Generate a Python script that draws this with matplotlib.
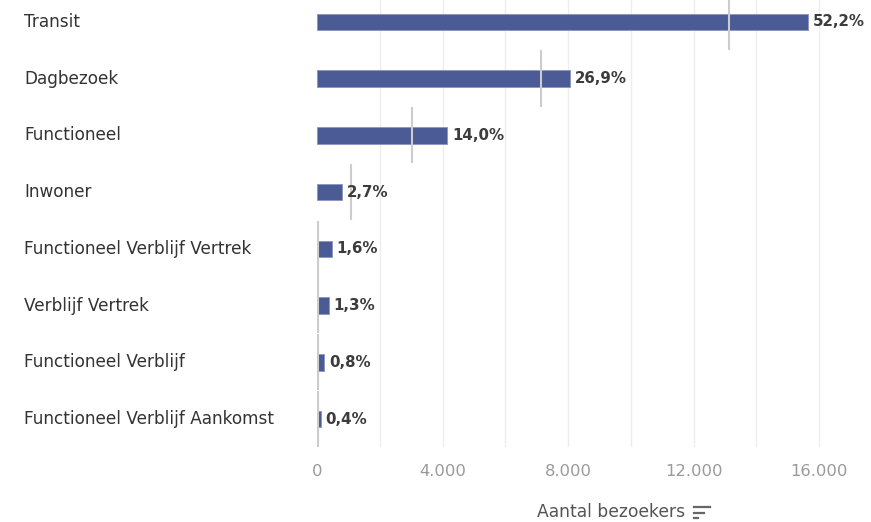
import matplotlib
matplotlib.use("Agg")
import matplotlib.pyplot as plt
from matplotlib.lines import Line2D

categories = ["Transit", "Dagbezoek", "Functioneel", "Inwoner",
              "Functioneel Verblijf Vertrek", "Verblijf Vertrek",
              "Functioneel Verblijf", "Functioneel Verblijf Aankomst"]
visitors = [15650, 8060, 4150, 800, 470, 380, 225, 115]
pct_labels = ["52,2%", "26,9%", "14,0%", "2,7%", "1,6%", "1,3%", "0,8%", "0,4%"]
reference = [13130, 7150, 3030, 1085, 20, 20, 20, 20]
xticks = [0, 4000, 8000, 12000, 16000]
xtick_labels = ["0", "4.000", "8.000", "12.000", "16.000"]
grid_vals = list(range(0, 18001, 2000))

FONT = ["DejaVu Sans"]
plt.rcParams["font.family"] = FONT

W, H = 871, 522
fig = plt.figure(figsize=(W / 100, H / 100), dpi=100)
x0_px, x16_px = 317, 819
xmax = (W - x0_px) / (x16_px - x0_px) * 16000
top_px, bot_px = 0, 447
ax = fig.add_axes([x0_px / W, 1 - bot_px / H, 1 - x0_px / W, (bot_px - top_px) / H])

step = (419 - 22) / 7.0
ax.set_xlim(0, xmax)
ax.set_ylim(7 + (bot_px - 419) / step, -(22 - top_px) / step)

for g in grid_vals[1:]:
    ax.axvline(g, color="#ededed", lw=1.0, zorder=0)

ypos = list(range(len(categories)))
ax.barh(ypos, visitors, height=0.29, color="#4b5b95", edgecolor="#8a95bd",
        linewidth=0.6, zorder=2)

for i, r in enumerate(reference):
    ax.plot([r, r], [i - 0.5, i + 0.49], color="#cccccc", lw=1.5, zorder=3,
            solid_capstyle="butt")

for i, (v, lab) in enumerate(zip(visitors, pct_labels)):
    ax.text(v + 150, i, lab, va="center", ha="left", fontsize=10.8,
            fontweight="bold", color="#3c3c3c", zorder=4)

for s in ax.spines.values():
    s.set_visible(False)
ax.set_yticks([])
ax.set_xticks([])

for i, c in enumerate(categories):
    fig.text(24 / W, 1 - (22 + i * step) / H, c, ha="left", va="center",
             fontsize=12.2, color="#333333")

for v, lab in zip(xticks, xtick_labels):
    ax.text(v, 7 + (472 - 419) / step, lab, ha="center", va="center",
            fontsize=11.8, color="#9a9a9a", clip_on=False)

fig.text(611 / W, 1 - 512 / H, "Aantal bezoekers", ha="center", va="center",
         fontsize=12.3, color="#555555")
# sort icon
for k, (xa, xb) in enumerate([(694, 710), (694, 704), (694, 698)]):
    y = 1 - (507 + k * 5.5) / H
    fig.add_artist(Line2D([xa / W, xb / W], [y, y], color="#666666", lw=1.6,
                          transform=fig.transFigure))

fig.savefig("out.png", dpi=100)
